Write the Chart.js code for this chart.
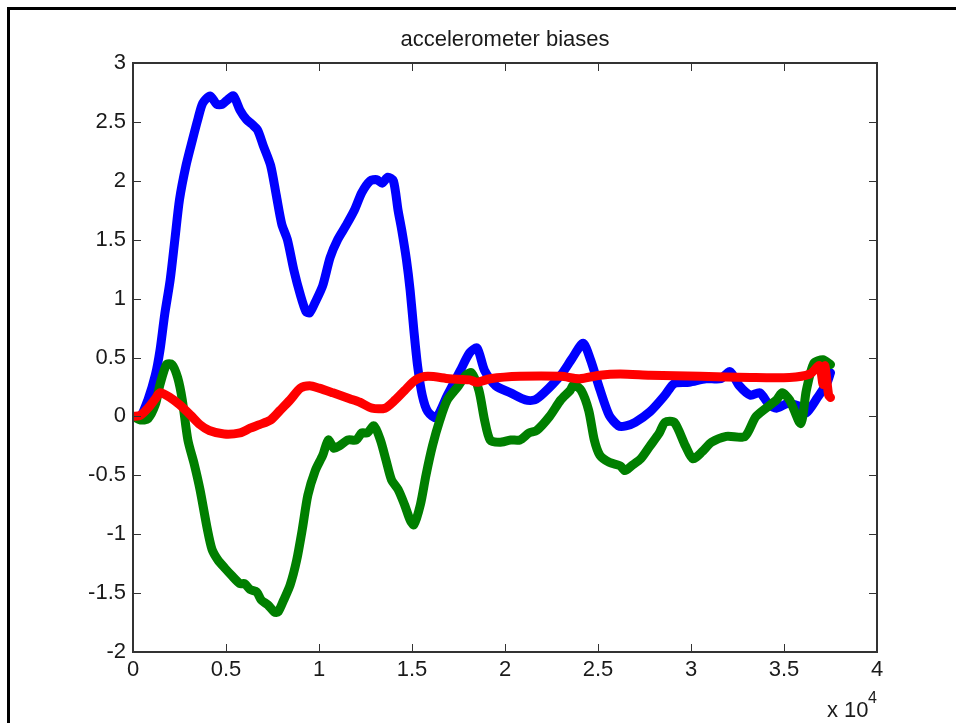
<!DOCTYPE html>
<html>
<head>
<meta charset="utf-8">
<title>accelerometer biases</title>
<script src="https://cdn.jsdelivr.net/npm/chart.js@4.4.0/dist/chart.umd.min.js"></script>
<style>
    html, body { margin: 0; padding: 0; background: #fff; }
    #wrap { position: relative; width: 956px; height: 723px; overflow: hidden; }
    #frame {
        position: absolute; left: 7px; top: 7px; right: 0; bottom: 0;
        border-left: 3px solid #000; border-top: 3px solid #000;
        pointer-events: none;
    }
    #biasChart { position: absolute; left: 0; top: 0; }
</style>
</head>
<body>
<div id="wrap">
    <canvas id="biasChart" width="956" height="723"></canvas>
    <div id="frame"></div>
</div>
<script>
// sample index of each reading, one array per axis
const sampleX = [0, 400, 800, 1200, 1450, 1700, 2000, 2250, 2500, 2850, 3200, 3500, 3750, 4150, 4500, 4800, 5100, 5400, 5750, 6100, 6400, 6700, 7000, 7400, 7700, 8000, 8300, 8650, 9000, 9300, 9500, 9800, 10200, 10600, 11000, 11450, 11900, 12300, 12750, 13100, 13400, 13700, 14000, 14250, 14450, 14700, 14900, 15100, 15300, 15550, 15850, 16300, 16900, 17600, 18100, 18500, 18900, 19500, 20300, 21100, 21600, 22100, 23000, 23600, 24200, 24600, 25100, 25600, 26100, 26500, 27000, 27800, 28600, 29100, 29900, 30800, 31600, 32100, 32600, 33200, 33700, 34200, 34600, 35200, 35900, 36200, 36800, 37300, 37500];
const biasX = [0, 0.0, 0.14, 0.35, 0.56, 0.86, 1.16, 1.5, 1.84, 2.13, 2.35, 2.53, 2.66, 2.72, 2.65, 2.65, 2.69, 2.72, 2.6, 2.52, 2.48, 2.43, 2.3, 2.13, 1.88, 1.63, 1.5, 1.24, 1.03, 0.89, 0.88, 0.97, 1.11, 1.35, 1.5, 1.62, 1.75, 1.9, 2.0, 2.01, 1.98, 2.03, 2.0, 1.75, 1.58, 1.33, 1.07, 0.73, 0.43, 0.18, 0.04, -0.01, 0.18, 0.39, 0.54, 0.58, 0.39, 0.26, 0.2, 0.14, 0.14, 0.2, 0.35, 0.49, 0.62, 0.48, 0.23, 0.01, -0.08, -0.08, -0.05, 0.04, 0.18, 0.28, 0.29, 0.32, 0.32, 0.38, 0.26, 0.18, 0.2, 0.1, 0.07, 0.11, 0.08, 0.03, 0.16, 0.28, 0.37];

const sampleY = [0, 400, 800, 1200, 1450, 1800, 2100, 2400, 2650, 2950, 3300, 3600, 4000, 4250, 4570, 4950, 5300, 5750, 6000, 6300, 6650, 6900, 7250, 7600, 7800, 8100, 8450, 8800, 9100, 9400, 9800, 10200, 10500, 10800, 11100, 11550, 12000, 12300, 12600, 12950, 13300, 13600, 13900, 14250, 14600, 14900, 15100, 15450, 15750, 16100, 16500, 16900, 17500, 17900, 18200, 18600, 18900, 19200, 19700, 20300, 20800, 21300, 21700, 22400, 23000, 23500, 23700, 24100, 24500, 24800, 25100, 25600, 26200, 26450, 26800, 27300, 27800, 28300, 28600, 29100, 29700, 30100, 30600, 31100, 31900, 32900, 33500, 34600, 34900, 35300, 35900, 36200, 36600, 37100, 37500];
const biasY = [0, -0.03, -0.02, 0.1, 0.27, 0.44, 0.44, 0.33, 0.14, -0.2, -0.41, -0.62, -0.96, -1.13, -1.22, -1.29, -1.35, -1.42, -1.42, -1.47, -1.49, -1.56, -1.6, -1.66, -1.66, -1.56, -1.43, -1.22, -0.96, -0.67, -0.46, -0.33, -0.2, -0.27, -0.25, -0.2, -0.2, -0.14, -0.14, -0.08, -0.2, -0.37, -0.54, -0.62, -0.75, -0.88, -0.92, -0.75, -0.5, -0.25, -0.03, 0.14, 0.26, 0.35, 0.37, 0.22, -0.03, -0.2, -0.22, -0.2, -0.2, -0.14, -0.12, 0.0, 0.14, 0.22, 0.27, 0.22, 0.05, -0.2, -0.33, -0.39, -0.42, -0.46, -0.42, -0.36, -0.25, -0.14, -0.05, -0.05, -0.25, -0.36, -0.3, -0.22, -0.17, -0.17, 0.0, 0.14, 0.2, 0.14, -0.06, 0.22, 0.45, 0.48, 0.44];

const sampleZ = [0, 400, 800, 1200, 1450, 2000, 2500, 3100, 3600, 4100, 4900, 5750, 6300, 6800, 7400, 7900, 8450, 9000, 9500, 10000, 10750, 11650, 12200, 12850, 13550, 14100, 14600, 15200, 15850, 17000, 18100, 18500, 19200, 20800, 23000, 24000, 25100, 26200, 27800, 30500, 33200, 35300, 36400, 36900, 37100, 37200, 37400, 37500];
const biasZ = [0, 0.01, 0.07, 0.15, 0.2, 0.16, 0.1, 0.01, -0.07, -0.12, -0.15, -0.14, -0.1, -0.07, -0.03, 0.05, 0.14, 0.24, 0.26, 0.24, 0.2, 0.15, 0.12, 0.07, 0.07, 0.14, 0.22, 0.31, 0.34, 0.32, 0.31, 0.29, 0.32, 0.34, 0.34, 0.32, 0.35, 0.36, 0.35, 0.34, 0.33, 0.33, 0.36, 0.43, 0.27, 0.43, 0.18, 0.16];

const yTicks = [-2, -1.5, -1, -0.5, 0, 0.5, 1, 1.5, 2, 2.5, 3];
const xTicks = [0, 5000, 10000, 15000, 20000, 25000, 30000, 35000, 40000];

const FONT = '"Liberation Sans", Arial, sans-serif';
const INK = '#1a1a1a';
const AXIS = '#333333';

function toPoints(xs, ys) {
    return xs.map((x, i) => ({ x: x, y: ys[i] }));
}

// box around the plot, inward tick marks on all four sides, title and exponent label
const matlabAxes = {
    id: 'matlabAxes',
    afterDraw(chart) {
        const ctx = chart.ctx;
        const a = chart.chartArea;
        const xs = chart.scales.x;
        const ys = chart.scales.y;
        ctx.save();
        ctx.strokeStyle = AXIS;
        ctx.lineWidth = 1;
        ctx.beginPath();
        xTicks.forEach(v => {
            const px = Math.round(xs.getPixelForValue(v)) + 0.5;
            ctx.moveTo(px, a.bottom); ctx.lineTo(px, a.bottom - 8);
            ctx.moveTo(px, a.top); ctx.lineTo(px, a.top + 8);
        });
        yTicks.forEach(v => {
            const py = Math.round(ys.getPixelForValue(v)) + 0.5;
            ctx.moveTo(a.left, py); ctx.lineTo(a.left + 8, py);
            ctx.moveTo(a.right, py); ctx.lineTo(a.right - 8, py);
        });
        ctx.stroke();
        ctx.lineWidth = 2;
        ctx.strokeRect(Math.round(a.left), Math.round(a.top), Math.round(a.right - a.left), Math.round(a.bottom - a.top));

        ctx.fillStyle = INK;
        ctx.textBaseline = 'alphabetic';
        ctx.textAlign = 'center';
        ctx.font = '22px ' + FONT;
        ctx.fillText('accelerometer biases', (a.left + a.right) / 2, 46);

        ctx.textAlign = 'left';
        ctx.fillText('x 10', 827, 717);
        ctx.font = '16px ' + FONT;
        ctx.fillText('4', 868, 703);
        ctx.restore();
    }
};

const lineStyle = {
    borderWidth: 9,
    pointRadius: 0,
    fill: false,
    tension: 0.25,
    borderJoinStyle: 'round',
    borderCapStyle: 'round'
};

new Chart(document.getElementById('biasChart'), {
    type: 'line',
    data: {
        datasets: [
            Object.assign({ label: 'x', data: toPoints(sampleX, biasX), borderColor: '#0000ff', order: 3 }, lineStyle),
            Object.assign({ label: 'y', data: toPoints(sampleY, biasY), borderColor: '#007f00', order: 2 }, lineStyle),
            Object.assign({ label: 'z', data: toPoints(sampleZ, biasZ), borderColor: '#ff0000', order: 1 }, lineStyle)
        ]
    },
    options: {
        responsive: false,
        animation: false,
        events: [],
        layout: { padding: { left: 0, right: 79, top: 63, bottom: 0 } },
        plugins: {
            legend: { display: false },
            tooltip: { enabled: false },
            title: { display: false }
        },
        scales: {
            x: {
                type: 'linear',
                min: 0,
                max: 40000,
                afterBuildTicks: scale => { scale.ticks = xTicks.map(v => ({ value: v })); },
                afterFit: scale => { scale.height = 71; },
                grid: { display: false, drawTicks: false },
                border: { display: false },
                ticks: {
                    color: INK,
                    padding: 5,
                    maxRotation: 0,
                    font: { family: FONT, size: 22 },
                    callback: v => String(v / 10000)
                }
            },
            y: {
                min: -2,
                max: 3,
                afterBuildTicks: scale => { scale.ticks = yTicks.map(v => ({ value: v })); },
                afterFit: scale => { scale.width = 133; },
                grid: { display: false, drawTicks: false },
                border: { display: false },
                ticks: {
                    color: INK,
                    padding: 7,
                    font: { family: FONT, size: 22 },
                    callback: v => String(v)
                }
            }
        }
    },
    plugins: [matlabAxes]
});
</script>
</body>
</html>
